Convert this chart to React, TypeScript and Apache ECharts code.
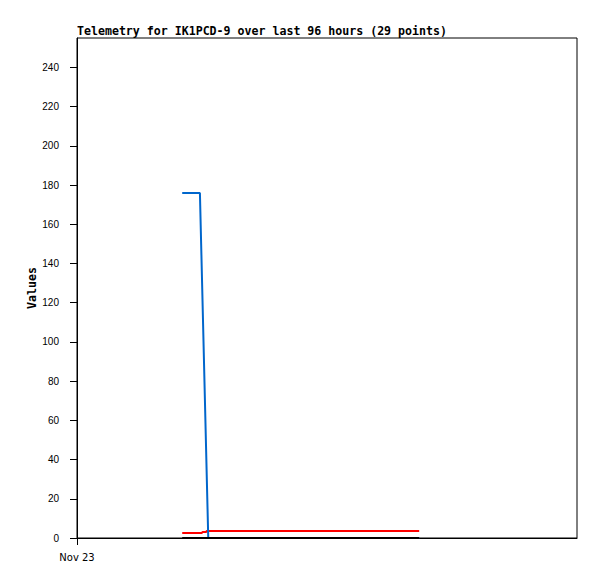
import React, { useEffect, useRef } from "react";
import * as echarts from "echarts";

const titleText = "Telemetry for IK1PCD-9 over last 96 hours (29 points)";
const yTicks = [0, 20, 40, 60, 80, 100, 120, 140, 160, 180, 200, 220, 240];
const xTickLabels = ["Nov 23"];
const xTickValues = [0];

// x in hours since Nov 23 00:00
const blueSeries: [number, number][] = [
  [20.2, 176], [23.6, 176], [25.2, 0], [65.7, 0],
];
const redSeries: [number, number][] = [
  [20.2, 2.6], [24.0, 2.6], [24.1, 3.1], [24.8, 3.1], [24.9, 3.6], [65.7, 3.6],
];
const blackSeries: [number, number][] = [
  [20.2, 0], [65.7, 0],
];

export default function App() {
  const ref = useRef<HTMLDivElement>(null);
  useEffect(() => {
    if (!ref.current) return;
    const chart = echarts.init(ref.current, null, { renderer: "svg" });
    chart.setOption({
      animation: false,
      backgroundColor: "#ffffff",
      title: {
        text: titleText,
        left: 77,
        top: 25,
        padding: 0,
        textStyle: {
          fontFamily: "DejaVu Sans Mono",
          fontWeight: "bold",
          fontSize: 11.6,
          color: "#000",
        },
      },
      grid: {
        left: 77,
        right: 20,
        top: 38,
        bottom: 41,
        show: true,
        borderColor: "#000",
        borderWidth: 1,
        backgroundColor: "transparent",
      },
      xAxis: {
        type: "value",
        min: 0,
        max: 96,
        interval: 96,
        axisLine: { show: true, onZero: false, lineStyle: { color: "#000", width: 1 } },
        axisTick: { show: true, length: 7, customValues: xTickValues, lineStyle: { color: "#000" } },
        splitLine: { show: false },
        axisLabel: {
          customValues: xTickValues,
          margin: 14,
          fontFamily: "DejaVu Sans",
          fontSize: 10,
          color: "#000",
          formatter: (v: number) => {
            const i = xTickValues.indexOf(v);
            return i >= 0 ? xTickLabels[i] : "";
          },
        },
      },
      yAxis: {
        type: "value",
        min: 0,
        max: 255,
        interval: 20,
        name: "Values",
        nameLocation: "middle",
        nameGap: 39,
        nameMoveOverlap: false,
        nameTextStyle: {
          fontFamily: "DejaVu Sans Mono",
          fontWeight: "bold",
          fontSize: 11.6,
          color: "#000",
        },
        axisLine: { show: true, lineStyle: { color: "#000", width: 1 } },
        axisTick: { show: true, length: 7, customValues: yTicks, lineStyle: { color: "#000" } },
        splitLine: { show: false },
        axisLabel: {
          customValues: yTicks,
          margin: 18,
          fontFamily: "Liberation Sans",
          fontSize: 10,
          color: "#000",
          formatter: (v: number) => (yTicks.indexOf(v) >= 0 ? String(v) : ""),
        },
      },
      series: [
        {
          type: "line",
          data: redSeries,
          showSymbol: false,
          lineStyle: { color: "#ff0000", width: 2 },
          z: 2,
        },
        {
          type: "line",
          data: blueSeries,
          showSymbol: false,
          lineStyle: { color: "#0066cc", width: 2 },
          z: 3,
        },
        {
          type: "line",
          data: blackSeries,
          showSymbol: false,
          lineStyle: { color: "#000000", width: 2 },
          z: 4,
        },
      ],
    });
    return () => chart.dispose();
  }, []);
  return (
    <div
      ref={ref}
      style={{ position: "fixed", left: 0, top: 0, width: 597, height: 579 }}
    />
  );
}
